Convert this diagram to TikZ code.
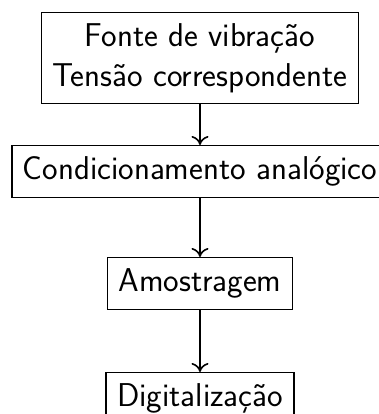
\documentclass[tikz,border=0pt]{standalone}
\usepackage{fontspec}
\usetikzlibrary{arrows.meta}
\begin{document}
\begin{tikzpicture}[x=1pt,y=1pt,
  blk/.style={draw, align=center, font=\fontsize{33}{39.6}\selectfont\sffamily, line width=1.4pt, inner sep=11pt},
  flow/.style={-{To[length=9pt,width=17pt]}, line width=1.6pt}]
\useasboundingbox (0,0) rectangle (379,-414);
\node[blk, anchor=north] (a) at (200,-12) {Fonte de vibração\\Tensão correspondente};
\node[blk, anchor=north] (b) at (200,-145) {Condicionamento analógico};
\node[blk, anchor=north] (c) at (200,-257) {Amostragem};
\node[blk, anchor=north] (d) at (200,-372) {Digitalização};
\draw[flow] (a) -- (b);
\draw[flow] (b) -- (c);
\draw[flow] (c) -- (d);
\end{tikzpicture}
\end{document}
